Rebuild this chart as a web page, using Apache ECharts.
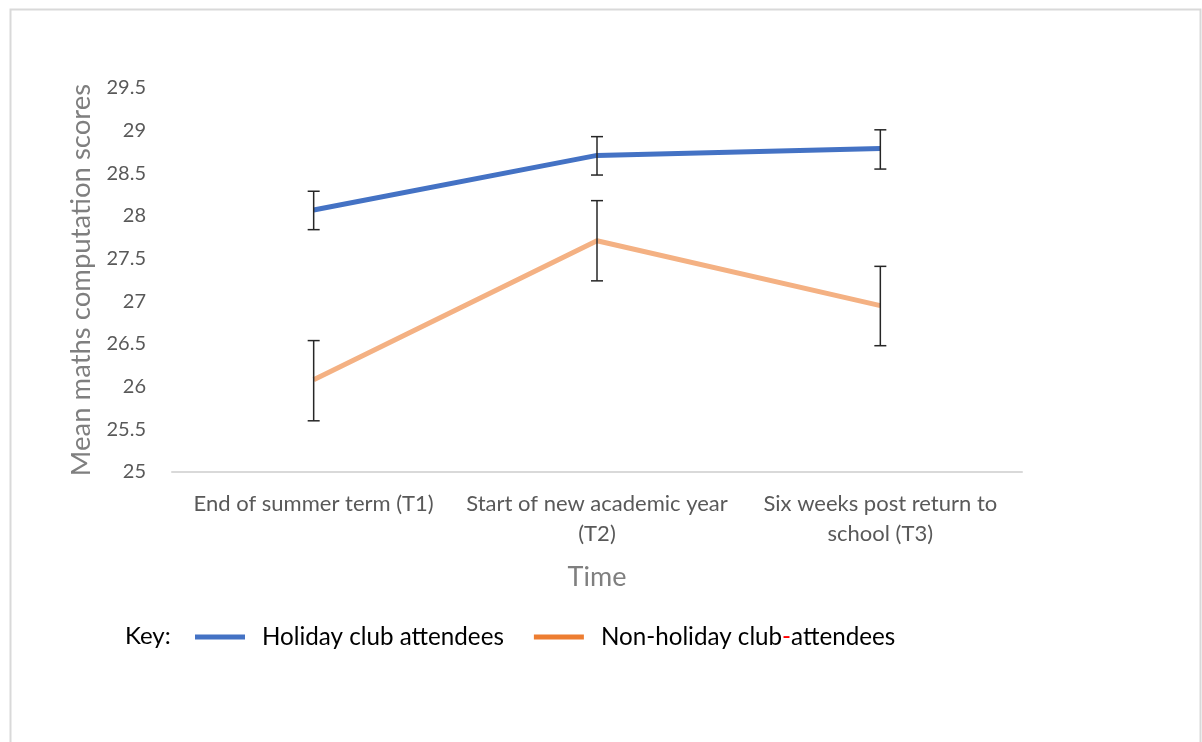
<!DOCTYPE html>
<html>
<head>
<meta charset="utf-8">
<script src="https://cdn.jsdelivr.net/npm/echarts@6/dist/echarts.min.js"></script>
<style>
html,body{margin:0;padding:0;background:#fff;}
#chart{width:1202px;height:742px;}
</style>
</head>
<body>
<div id="chart"></div>
<script>
const categories = ['End of summer term (T1)', 'Start of new academic year\n(T2)', 'Six weeks post return to\nschool (T3)'];
const seriesNames = ['Holiday club attendees', 'Non-holiday club-attendees'];
const holidayMean = [28.07, 28.71, 28.79];
const holidayLow = [27.84, 28.48, 28.55];
const holidayHigh = [28.29, 28.93, 29.01];
const nonHolidayMean = [26.08, 27.71, 26.95];
const nonHolidayLow = [25.60, 27.24, 26.48];
const nonHolidayHigh = [26.54, 28.18, 27.41];
const yTicks = [25, 25.5, 26, 26.5, 27, 27.5, 28, 28.5, 29, 29.5];

const FONT = 'Lato, "Open Sans", sans-serif';

function errorData(low, high) {
  return low.map((l, i) => [i, l, high[i]]);
}
function errorRender(params, api) {
  const x = api.value(0);
  const lo = api.coord([x, api.value(1)]);
  const hi = api.coord([x, api.value(2)]);
  const half = 6;
  const style = { stroke: '#262626', lineWidth: 1.5 };
  return {
    type: 'group',
    children: [
      { type: 'line', shape: { x1: lo[0], y1: lo[1], x2: hi[0], y2: hi[1] }, style },
      { type: 'line', shape: { x1: hi[0] - half, y1: hi[1], x2: hi[0] + half, y2: hi[1] }, style },
      { type: 'line', shape: { x1: lo[0] - half, y1: lo[1], x2: lo[0] + half, y2: lo[1] }, style }
    ]
  };
}

const chart = echarts.init(document.getElementById('chart'));
chart.setOption({
  animation: false,
  backgroundColor: '#fff',
  grid: { left: 172, right: 180, top: 88, bottom: 270, containLabel: false },
  xAxis: {
    type: 'category',
    data: categories,
    boundaryGap: true,
    axisLine: { lineStyle: { color: '#d9d9d9', width: 2 } },
    axisTick: { show: false },
    axisLabel: { color: '#595959', fontSize: 22, fontFamily: FONT, margin: 17, lineHeight: 30, interval: 0 },
    name: 'Time',
    nameLocation: 'middle',
    nameGap: 92,
    nameTextStyle: { color: '#7f7f7f', fontSize: 27, fontFamily: FONT }
  },
  yAxis: {
    type: 'value',
    min: 25, max: 29.5, interval: 0.5,
    splitLine: { show: false },
    axisLine: { show: false },
    axisTick: { show: false },
    axisLabel: { color: '#595959', fontSize: 20, fontFamily: FONT, margin: 26,
      formatter: v => String(yTicks.find(t => Math.abs(t - v) < 1e-6) ?? v) },
    name: 'Mean maths computation scores',
    nameLocation: 'middle',
    nameGap: 77,
    nameTextStyle: { color: '#7f7f7f', fontSize: 27.5, fontFamily: FONT }
  },
  legend: {
    left: 190, top: 620,
    itemWidth: 50, itemHeight: 5, itemGap: 30,
    icon: 'rect',
    data: [
      { name: seriesNames[0], itemStyle: { color: '#4472C4' } },
      { name: seriesNames[1], itemStyle: { color: '#ED7D31' } }
    ],
    formatter: n => n.replace('club-attendees', 'club{r|-}attendees'),
    textStyle: { color: '#000', fontSize: 24.2, fontFamily: FONT, padding: [0, 0, 0, 12],
      rich: { r: { color: '#ff0000', fontSize: 24.2, fontFamily: FONT } } }
  },
  graphic: [
    { type: 'rect', left: 8, top: 7, shape: { width: 1190, height: 760 },
      style: { fill: 'none', stroke: '#d9d9d9', lineWidth: 2 }, silent: true },
    { type: 'text', left: 125, top: 624,
      style: { text: 'Key:', fill: '#000', font: '24px ' + FONT } }
  ],
  series: [
    { name: seriesNames[0], type: 'line', data: holidayMean, symbol: 'none',
      lineStyle: { color: '#4472C4', width: 5 }, itemStyle: { color: '#4472C4' }, z: 3 },
    { name: seriesNames[1], type: 'line', data: nonHolidayMean, symbol: 'none',
      lineStyle: { color: '#F4B183', width: 5 }, itemStyle: { color: '#F4B183' }, z: 3 },
    { name: 'holidayErr', type: 'custom', data: errorData(holidayLow, holidayHigh),
      renderItem: errorRender, z: 4, silent: true },
    { name: 'nonHolidayErr', type: 'custom', data: errorData(nonHolidayLow, nonHolidayHigh),
      renderItem: errorRender, z: 4, silent: true }
  ]
});
</script>
</body>
</html>
